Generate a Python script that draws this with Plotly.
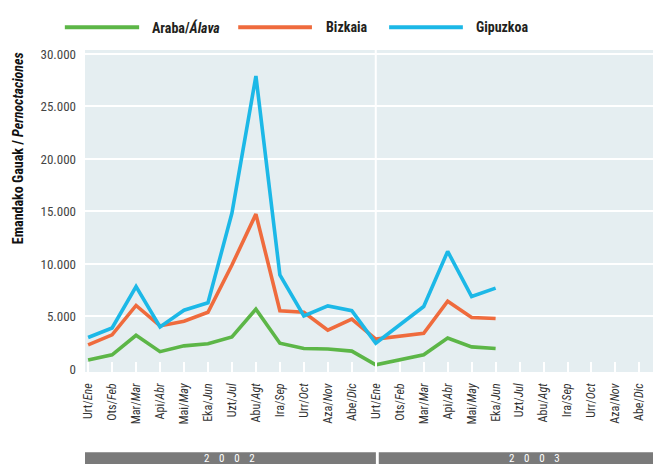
import plotly.graph_objects as go

# --- data -----------------------------------------------------------------
months = ["Urt/<i>Ene</i>", "Ots/<i>Feb</i>", "Mar/<i>Mar</i>", "Api/<i>Abr</i>",
          "Mai/<i>May</i>", "Eka/<i>Jun</i>", "Uzt/<i>Jul</i>", "Abu/<i>Agt</i>",
          "Ira/<i>Sep</i>", "Urr/<i>Oct</i>", "Aza/<i>Nov</i>", "Abe/<i>Dic</i>"]
years = ["2002", "2003"]

araba = [850, 1350, 3200, 1650, 2200, 2400, 3050, 5700, 2450, 1950, 1900, 1700,
         400, 850, 1350, 2950, 2100, 1950]
bizkaia = [2300, 3250, 6050, 4100, 4550, 5400, 9900, 14750, 5550, 5400, 3700, 4750,
           2850, 3100, 3400, 6450, 4900, 4800]
gipuzkoa = [3000, 3900, 7850, 4000, 5600, 6300, 14850, 27900, 8950, 5050, 6000, 5550,
            2450, 4150, 5950, 11200, 6900, 7700]

series_names = ["Araba/<i>Álava</i>", "Bizkaia", "Gipuzkoa"]
series_values = [araba, bizkaia, gipuzkoa]
series_colors = ["#5CB647", "#EF6B3D", "#1CB8E7"]

FONT = "Liberation Sans Narrow, Roboto Condensed, Arial Narrow, DejaVu Sans Condensed, sans-serif"
BG = "#E5EEF1"

all_months = months * len(years)
x_idx = list(range(len(all_months)))

fig = go.Figure()
for name, vals, col in zip(series_names, series_values, series_colors):
    fig.add_trace(go.Scatter(
        x=x_idx[:len(vals)], y=vals, mode="lines", name=name,
        line=dict(color=col, width=3.6), showlegend=False,
    ))

# divider between the two years
fig.add_vline(x=len(months), line=dict(color="white", width=2), layer="below")

# hand-drawn legend (long line samples)
legend_lines = [(-0.035, 0.094), (0.266, 0.394), (0.528, 0.656)]
legend_text_x = [0.113, 0.415, 0.676]
for (x0, x1), tx, name, col in zip(legend_lines, legend_text_x, series_names, series_colors):
    fig.add_shape(type="line", xref="paper", yref="paper", x0=x0, x1=x1,
                  y0=1.071, y1=1.071, line=dict(color=col, width=4))
    fig.add_annotation(xref="paper", yref="paper", x=tx, y=1.071, xanchor="left",
                       yanchor="middle", showarrow=False, text=f"<b>{name}</b>",
                       font=dict(family=FONT, size=14, color="#231F20"))

# year bands at the bottom
band_spans = [(0.0, 0.505), (0.510, 1.0)]
band_text_x = [0.25, 0.78]
for (x0, x1), tx, yr in zip(band_spans, band_text_x, years):
    fig.add_shape(type="rect", xref="paper", yref="paper", x0=x0, x1=x1,
                  y0=-0.32, y1=-0.249, line=dict(width=0), fillcolor="#7A7A7A")
    fig.add_annotation(xref="paper", yref="paper", x=tx, y=-0.268, xanchor="center",
                       yanchor="middle", showarrow=False,
                       text="\u2003".join(yr),
                       font=dict(family=FONT, size=11, color="white"))

# y-axis title, placed at the top of the axis
fig.add_annotation(xref="paper", yref="paper", x=-0.116, y=1.0, xanchor="center",
                   yanchor="top", textangle=-90, showarrow=False,
                   text="<b>Emandako Gauak / <i>Pernoctaciones</i></b>",
                   font=dict(family=FONT, size=14, color="#111111"))

# page body adds an 8px offset, so the figure is sized to compensate
fig.update_layout(
    width=653, height=456,
    margin=dict(l=77, r=0, t=42, b=92, autoexpand=False),
    paper_bgcolor="white",
    plot_bgcolor=BG,
    separators=",.",
    font=dict(family=FONT, size=12, color="#333333"),
    showlegend=False,
)
fig.update_xaxes(
    range=[-0.13, 23.9], automargin=False,
    tickvals=x_idx, ticktext=all_months, tickangle=-90,
    ticks="inside", ticklen=10, tickwidth=2, tickcolor="white",
    ticklabelstandoff=8,
    showgrid=False, zeroline=False, showline=False,
    tickfont=dict(family=FONT, size=12, color="#333333"),
)
fig.update_yaxes(
    range=[-290, 30380], automargin=False,
    tickvals=[0, 5000, 10000, 15000, 20000, 25000, 30000], tickformat=",d",
    showgrid=True, gridcolor="white", gridwidth=2,
    zeroline=True, zerolinecolor=BG, zerolinewidth=2,
    showline=False, ticks="", ticklabelstandoff=8,
    tickfont=dict(family=FONT, size=13, color="#444444"),
)

fig.write_html("out.html")
